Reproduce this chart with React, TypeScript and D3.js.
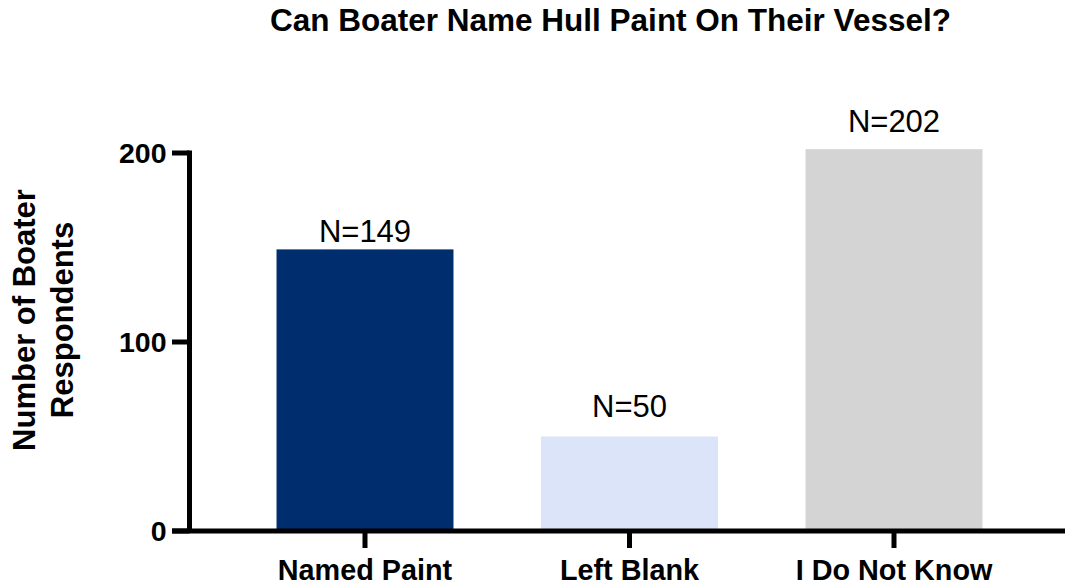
import React, { useEffect, useRef } from "react";
import * as d3 from "d3";

const categories = ["Named Paint", "Left Blank", "I Do Not Know"];
const counts = [149, 50, 202];
const countLabels = ["N=149", "N=50", "N=202"];
const labelAnchors = [153, 60.5, 211.3];
const barColors = ["#002D6E", "#DCE4FA", "#D4D4D4"];
const yTicks = [0, 100, 200];
const titleText = "Can Boater Name Hull Paint On Their Vessel?";
const yLabelLines = ["Number of Boater", "Respondents"];

const W = 1065;
const H = 585;
const FONT = "'Liberation Sans', Arial, Helvetica, sans-serif";

export default function App() {
  const ref = useRef<SVGSVGElement>(null);

  useEffect(() => {
    const svg = d3.select(ref.current);
    svg.selectAll("*").remove();

    const y = d3.scaleLinear().domain([0, 200]).range([531, 153]);
    const x = d3.scalePoint<string>().domain(categories).range([365, 894]);
    const barW = x.step() * 0.669;

    // bars
    svg
      .append("g")
      .selectAll("rect")
      .data(categories)
      .join("rect")
      .attr("x", (d) => (x(d) as number) - barW / 2)
      .attr("width", barW)
      .attr("y", (_, i) => y(counts[i]))
      .attr("height", (_, i) => y(0) - y(counts[i]))
      .attr("fill", (_, i) => barColors[i]);

    // N labels
    svg
      .append("g")
      .selectAll("text")
      .data(categories)
      .join("text")
      .attr("x", (d) => x(d) as number)
      .attr("y", (_, i) => y(labelAnchors[i]))
      .attr("text-anchor", "middle")
      .attr("font-family", FONT)
      .attr("font-size", 31)
      .attr("fill", "#000")
      .text((_, i) => countLabels[i]);

    const sw = 5;
    // y axis line
    svg
      .append("line")
      .attr("x1", 189.5)
      .attr("x2", 189.5)
      .attr("y1", y(0))
      .attr("y2", y(200) - sw / 2)
      .attr("stroke", "#000")
      .attr("stroke-width", sw);

    // x axis line
    svg
      .append("line")
      .attr("x1", 172)
      .attr("x2", W)
      .attr("y1", y(0))
      .attr("y2", y(0))
      .attr("stroke", "#000")
      .attr("stroke-width", sw);

    // y ticks
    const yt = svg.append("g");
    yt.selectAll("line")
      .data(yTicks)
      .join("line")
      .attr("x1", 172)
      .attr("x2", 189.5)
      .attr("y1", (d) => y(d))
      .attr("y2", (d) => y(d))
      .attr("stroke", "#000")
      .attr("stroke-width", sw);
    yt.selectAll("text")
      .data(yTicks)
      .join("text")
      .attr("x", 166.5)
      .attr("y", (d) => y(d))
      .attr("dy", "0.36em")
      .attr("text-anchor", "end")
      .attr("font-family", FONT)
      .attr("font-weight", "bold")
      .attr("font-size", 28.5)
      .attr("fill", "#000")
      .text((d) => String(d));

    // x ticks
    const xt = svg.append("g");
    xt.selectAll("line")
      .data(categories)
      .join("line")
      .attr("x1", (d) => x(d) as number)
      .attr("x2", (d) => x(d) as number)
      .attr("y1", y(0))
      .attr("y2", y(0) + 17)
      .attr("stroke", "#000")
      .attr("stroke-width", sw);
    xt.selectAll("text")
      .data(categories)
      .join("text")
      .attr("x", (d) => x(d) as number)
      .attr("y", 579.5)
      .attr("text-anchor", "middle")
      .attr("font-family", FONT)
      .attr("font-weight", "bold")
      .attr("font-size", 28.8)
      .attr("fill", "#000")
      .text((d) => d);

    // title
    svg
      .append("text")
      .attr("x", 610.5)
      .attr("y", 31)
      .attr("text-anchor", "middle")
      .attr("font-family", FONT)
      .attr("font-weight", "bold")
      .attr("font-size", 31.5)
      .attr("fill", "#000")
      .text(titleText);

    // y label
    const yl = svg
      .append("text")
      .attr("transform", "translate(0,320) rotate(-90)")
      .attr("text-anchor", "middle")
      .attr("font-family", FONT)
      .attr("font-weight", "bold")
      .attr("font-size", 31)
      .attr("fill", "#000");
    yl.selectAll("tspan")
      .data(yLabelLines)
      .join("tspan")
      .attr("x", 0)
      .attr("y", (_, i) => [35, 73][i])
      .text((d) => d);
  }, []);

  return (
    <div style={{ position: "absolute", left: 0, top: 0 }}>
      <svg ref={ref} width={W} height={H} style={{ display: "block", background: "#fff" }} />
    </div>
  );
}
